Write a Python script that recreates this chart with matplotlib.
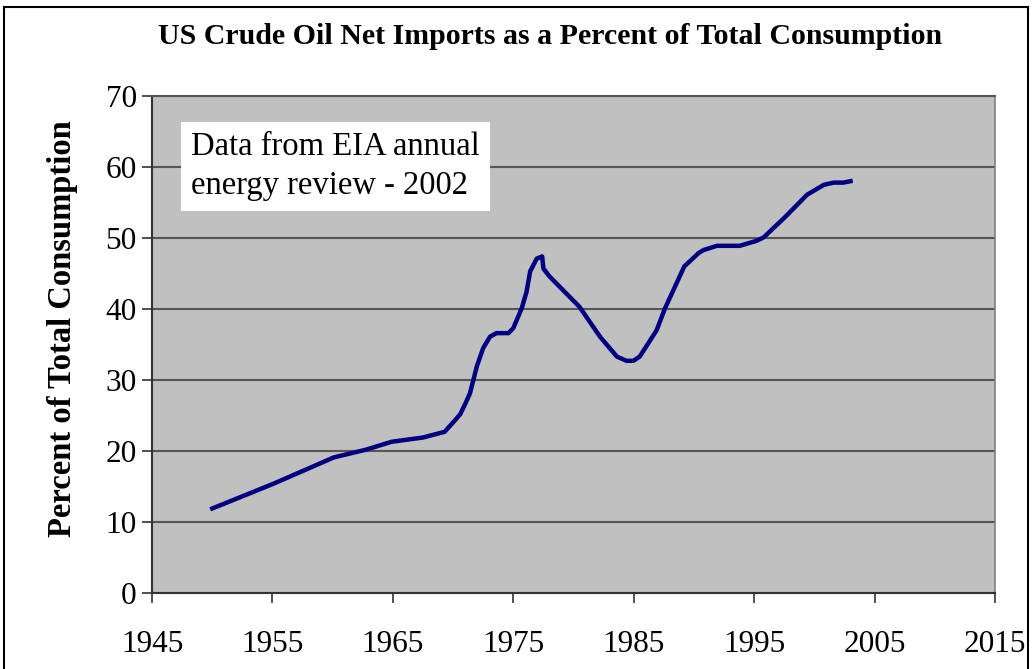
import matplotlib.pyplot as plt
from matplotlib.patches import Rectangle

# -------------------------------
# DATA
# -------------------------------
years = [1950.0, 1955.1, 1960.1, 1962.8, 1964.9, 1967.5, 1969.3, 1970.2,
         1970.6, 1971.0, 1971.4, 1971.97, 1972.5, 1973.07, 1973.6, 1974.6,
         1975.0, 1975.7, 1976.1, 1976.4, 1976.95, 1977.4, 1977.5, 1978.0,
         1980.5, 1982.2, 1983.6, 1984.4, 1984.97, 1985.5, 1986.9, 1987.6,
         1989.2, 1990.4, 1990.8, 1991.9, 1993.8, 1995.2, 1995.8, 1997.6,
         1999.4, 2000.8, 2001.6, 2002.4, 2003.0]
pct_imports = [11.9, 15.4, 19.1, 20.2, 21.3, 21.9, 22.7, 24.4,
               25.2, 26.6, 28.1, 31.9, 34.5, 36.1, 36.6, 36.6,
               37.3, 40.1, 42.4, 45.3, 47.1, 47.4, 45.7, 44.6,
               40.3, 36.1, 33.3, 32.7, 32.7, 33.3, 37.0, 40.1,
               46.0, 47.9, 48.3, 48.9, 48.9, 49.6, 50.1, 53.0,
               56.1, 57.5, 57.8, 57.8, 58.0]

x_ticks = [1945, 1955, 1965, 1975, 1985, 1995, 2005, 2015]
y_ticks = [0, 10, 20, 30, 40, 50, 60, 70]

title = "US Crude Oil Net Imports as a Percent of Total Consumption"
note = "Data from EIA annual\nenergy review - 2002"

# -------------------------------
# PLOT
# -------------------------------
plt.rcParams['font.family'] = ['Liberation Serif', 'DejaVu Serif']

fig = plt.figure(figsize=(10.32, 6.69), dpi=100)
ax = fig.add_axes([152 / 1032, 1 - 593 / 669, (995 - 152) / 1032, (593 - 96) / 669])

ax.set_facecolor('#C0C0C0')
ax.plot(years, pct_imports, color='#000080', linewidth=3.2, solid_joinstyle='round')

ax.set_xlim(1945, 2015)
ax.set_ylim(0, 70)
ax.set_xticks(x_ticks)
ax.set_yticks(y_ticks)
ax.tick_params(axis='both', labelsize=22.5, direction='out', length=7, width=1.2, color='#333333')
ax.tick_params(axis='x', pad=20)
ax.tick_params(axis='y', pad=4)

ax.yaxis.grid(True, color='#555555', linewidth=1.5)
ax.set_axisbelow(True)
for side in ['left', 'bottom']:
    ax.spines[side].set_color('#333333')
    ax.spines[side].set_linewidth(1.5)
ax.spines['top'].set_color('#555555')
ax.spines['top'].set_linewidth(1.5)
ax.spines['right'].set_color('#808080')
ax.spines['right'].set_linewidth(1.2)

ax.set_ylabel("Percent of Total Consumption", fontsize=23.5, fontweight='bold')
ax.yaxis.set_label_coords(-(152 - 78) / 843, (593 - 329) / 497)
fig.text(550 / 1032, 1 - 36 / 669, title, fontsize=21.5, fontweight='bold', ha='center', va='center')

ax.text(1948.25, 65.0, note, fontsize=23.5, ha='left', va='top', linespacing=1.35,
        bbox=dict(boxstyle='square,pad=0.3', facecolor='white', edgecolor='none'))

# figure frame
fig.patches.append(Rectangle((4 / 1032, -0.01), 1024 / 1032, 1.01 - 7 / 669,
                             transform=fig.transFigure, fill=False,
                             edgecolor='black', linewidth=1.5))

fig.savefig('out.png', dpi=100)
